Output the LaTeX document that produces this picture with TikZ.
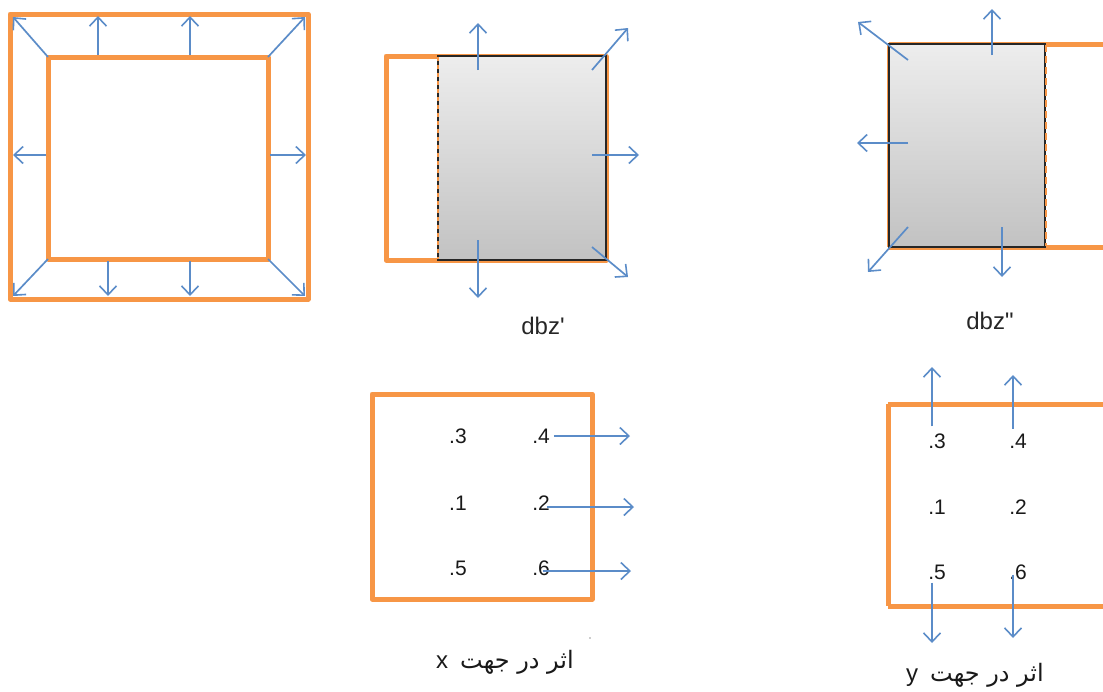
\documentclass[tikz,border=0pt]{standalone}
\usepackage{fontspec}
\setmainfont{Liberation Sans}
\newfontfamily\arabicfont[Script=Arabic]{DejaVu Sans}
\TeXXeTstate=1
\usetikzlibrary{arrows.meta}
\definecolor{orng}{HTML}{F79646}
\definecolor{blu}{HTML}{5B8CC8}
\definecolor{gtop}{HTML}{EDEDED}
\definecolor{gbot}{HTML}{C2C2C2}
\tikzset{
  frame/.style={draw=orng,line width=5pt,line join=round},
  pushar/.style={draw=blu,line width=1.7pt,-{Straight Barb[length=9pt,width=17pt,line width=1.6pt]}},
  block/.style={draw=black!85,line width=1.5pt,top color=gtop,bottom color=gbot},
  num/.style={font=\fontsize{21}{24}\selectfont,inner sep=1pt,text=black!90},
  lbl/.style={font=\fontsize{24}{28}\selectfont,text=black!85},
  captext/.style={font=\fontsize{24}{28}\selectfont,text=black!90}
}
\begin{document}
\begin{tikzpicture}[x=1pt,y=-1pt]
\useasboundingbox (0,0) rectangle (1103,691);
% ---------- left figure ----------
\draw[frame] (10,14) rectangle (308,299);
\draw[frame] (48,57) rectangle (268,259);
\coordinate (iTL) at (48,57); \coordinate (iTR) at (268,57);
\coordinate (iBL) at (48,259); \coordinate (iBR) at (268,259);
\coordinate (oTL) at (13,17); \coordinate (oTR) at (305,17);
\coordinate (oBL) at (13,296); \coordinate (oBR) at (305,296);
\draw[pushar] (iTL) -- (oTL);
\draw[pushar] (iTR) -- (oTR);
\draw[pushar] (iBL) -- (oBL);
\draw[pushar] (iBR) -- (oBR);
\coordinate (t1a) at (98,55); \coordinate (t1b) at (98,16);
\coordinate (t2a) at (190,55); \coordinate (t2b) at (190,16);
\coordinate (b1a) at (108,261); \coordinate (b1b) at (108,296);
\coordinate (b2a) at (190,261); \coordinate (b2b) at (190,296);
\coordinate (l1a) at (46,155); \coordinate (l1b) at (13,155);
\coordinate (r1a) at (270,155); \coordinate (r1b) at (306,155);
\draw[pushar] (t1a) -- (t1b);
\draw[pushar] (t2a) -- (t2b);
\draw[pushar] (b1a) -- (b1b);
\draw[pushar] (b2a) -- (b2b);
\draw[pushar] (l1a) -- (l1b);
\draw[pushar] (r1a) -- (r1b);
% ---------- middle top figure ----------
\draw[frame] (386,56) rectangle (606,260);
\draw[block] (438,56) rectangle (606,260);
\draw[draw=orng,line width=1.6pt,dash pattern=on 4pt off 4pt] (438,57) -- (438,259);
\coordinate (m1a) at (478,70); \coordinate (m1b) at (478,23);
\coordinate (m2a) at (592,70); \coordinate (m2b) at (628,28);
\coordinate (m3a) at (592,155); \coordinate (m3b) at (639,155);
\coordinate (m4a) at (592,247); \coordinate (m4b) at (628,277);
\coordinate (m5a) at (478,240); \coordinate (m5b) at (478,298);
\draw[pushar] (m1a) -- (m1b);
\draw[pushar] (m2a) -- (m2b);
\draw[pushar] (m3a) -- (m3b);
\draw[pushar] (m4a) -- (m4b);
\draw[pushar] (m5a) -- (m5b);
\node[lbl] (dbz1) at (543,326) {dbz\textquotesingle};
% ---------- right top figure ----------
\draw[frame] (889,44) -- (1110,44);
\draw[frame] (889,247) -- (1110,247);
\draw[frame] (889,44) -- (889,247);
\draw[block] (889,44) rectangle (1045,247);
\draw[draw=orng,line width=1.8pt,dash pattern=on 7pt off 4pt] (1046,45) -- (1046,246);
\coordinate (n1a) at (908,60); \coordinate (n1b) at (858,22);
\coordinate (n2a) at (992,55); \coordinate (n2b) at (992,9);
\coordinate (n3a) at (908,143); \coordinate (n3b) at (857,143);
\coordinate (n4a) at (908,227); \coordinate (n4b) at (868,272);
\coordinate (n5a) at (1002,227); \coordinate (n5b) at (1002,277);
\draw[pushar] (n1a) -- (n1b);
\draw[pushar] (n2a) -- (n2b);
\draw[pushar] (n3a) -- (n3b);
\draw[pushar] (n4a) -- (n4b);
\draw[pushar] (n5a) -- (n5b);
\node[lbl] (dbz2) at (990,321) {dbz\textquotedbl};
% ---------- bottom middle (x direction) ----------
\draw[frame] (372,394) rectangle (592,599);
\node[num] (x3) at (458,436) {.3};
\node[num] (x4) at (541,436) {.4};
\node[num] (x1) at (458,503) {.1};
\node[num] (x2) at (541,503) {.2};
\node[num] (x5) at (458,568) {.5};
\node[num] (x6) at (541,568) {.6};
\coordinate (x4e) at (630,436);
\coordinate (x2e) at (634,507);
\coordinate (x6e) at (631,571);
\draw[pushar] ([xshift=3pt]x4.east |- x4e) -- (x4e);
\draw[pushar] ([xshift=-4pt]x2.east |- x2e) -- (x2e);
\draw[pushar] ([xshift=-8pt]x6.east |- x6e) -- (x6e);
\node[captext] (capx) at (505,662) {x\hspace{0.5em}{\arabicfont\beginR اثر در جهت\endR}};
\fill[black!40] (590,638) circle (0.8pt);
% ---------- bottom right (y direction) ----------
\draw[frame] (888,404) -- (1110,404);
\draw[frame] (888,606) -- (1110,606);
\draw[frame] (888,404) -- (888,606);
\node[num] (y3) at (937,441) {.3};
\node[num] (y4) at (1018,441) {.4};
\node[num] (y1) at (937,507) {.1};
\node[num] (y2) at (1018,507) {.2};
\node[num] (y5) at (937,572) {.5};
\node[num] (y6) at (1018,572) {.6};
\coordinate (y3e) at (932,367);
\coordinate (y4e) at (1013,375);
\coordinate (y5e) at (932,643);
\coordinate (y6e) at (1013,638);
\draw[pushar] ([yshift=6pt]y3.north -| y3e) -- (y3e);
\draw[pushar] ([yshift=4pt]y4.north -| y4e) -- (y4e);
\draw[pushar] ([yshift=-2pt]y5.south -| y5e) -- (y5e);
\draw[pushar] ([yshift=6pt]y6.south -| y6e) -- (y6e);
\node[captext] (capy) at (975,675) {y\hspace{0.5em}{\arabicfont\beginR اثر در جهت\endR}};
\end{tikzpicture}
\end{document}
